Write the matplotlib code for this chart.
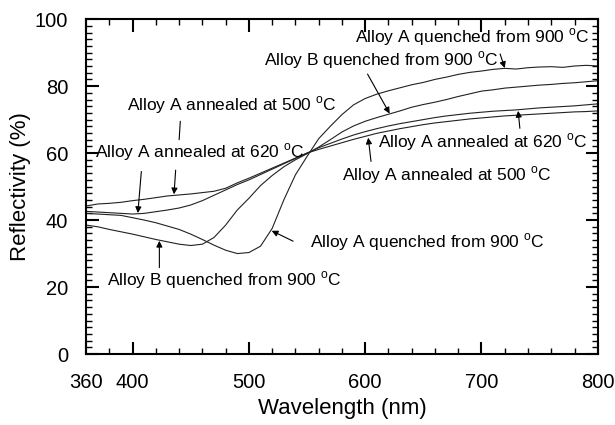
import numpy as np
import matplotlib
matplotlib.use("Agg")
import matplotlib.pyplot as plt
from matplotlib.ticker import MultipleLocator, FixedLocator

plt.rcParams['font.family'] = ['Liberation Sans', 'DejaVu Sans']
plt.rcParams['mathtext.fontset'] = 'custom'
plt.rcParams['mathtext.rm'] = 'Liberation Sans'

# Wavelength grid (nm)
wavelength = list(range(360, 801, 10))

# Reflectivity spectra (%)
alloy_a_quenched = [42.0, 41.8, 41.6, 41.4, 40.7, 40.0, 39.2, 38.2, 37.2, 35.8,
                    34.2, 32.5, 31.0, 30.0, 30.3, 32.2, 37.5, 46.0, 53.5, 59.0,
                    64.3, 68.0, 71.5, 74.4, 76.3, 77.6, 78.6, 79.5, 80.4, 81.1,
                    82.0, 82.7, 83.5, 84.1, 84.5, 85.0, 85.3, 85.1, 85.5, 85.7,
                    85.8, 85.6, 86.0, 86.2, 86.0]
alloy_b_quenched = [38.5, 38.0, 37.2, 36.5, 35.8, 35.0, 34.2, 33.5, 32.8, 32.4,
                    32.8, 34.8, 38.5, 43.0, 46.5, 50.3, 53.3, 55.9, 58.0, 59.8,
                    61.8, 64.0, 66.3, 68.1, 69.5, 70.6, 71.6, 72.6, 73.7, 74.5,
                    75.2, 76.0, 76.9, 77.7, 78.5, 78.9, 79.4, 79.7, 80.0, 80.3,
                    80.5, 80.8, 81.0, 81.3, 81.6]
alloy_a_500 = [44.2, 44.8, 45.0, 45.3, 45.8, 46.2, 46.7, 47.2, 47.5, 47.8,
               48.2, 48.6, 49.5, 51.1, 52.5, 54.0, 55.5, 57.0, 58.5, 60.0,
               61.1, 62.1, 63.1, 64.1, 65.0, 65.9, 66.6, 67.3, 67.9, 68.5,
               69.0, 69.4, 69.8, 70.2, 70.5, 70.8, 71.1, 71.3, 71.5, 71.7,
               71.9, 72.1, 72.3, 72.4, 72.6]
alloy_a_620 = [42.6, 42.4, 42.2, 42.0, 41.8, 42.0, 42.5, 43.0, 43.6, 44.5,
               45.8, 47.4, 49.0, 50.6, 52.0, 53.6, 55.2, 56.8, 58.4, 60.0,
               61.6, 62.9, 64.2, 65.4, 66.4, 67.3, 68.1, 68.8, 69.4, 70.0,
               70.6, 71.1, 71.5, 71.9, 72.2, 72.5, 72.7, 72.9, 73.2, 73.5,
               73.7, 73.9, 74.1, 74.4, 74.7]

x_ticks = [360, 400, 500, 600, 700, 800]
y_ticks = [0, 20, 40, 60, 80, 100]

fig = plt.figure(figsize=(6.15, 4.25), dpi=100)
ax = fig.add_axes([0.140, 0.167, 0.832, 0.788])

line_kw = dict(color='#222222', lw=0.8)
ax.plot(wavelength, alloy_a_quenched, **line_kw)
ax.plot(wavelength, alloy_b_quenched, **line_kw)
ax.plot(wavelength, alloy_a_500, **line_kw)
ax.plot(wavelength, alloy_a_620, **line_kw)

ax.set_xlim(360, 800)
ax.set_ylim(0, 100)
ax.xaxis.set_major_locator(FixedLocator(x_ticks))
ax.xaxis.set_minor_locator(MultipleLocator(20))
ax.yaxis.set_major_locator(FixedLocator(y_ticks))
ax.yaxis.set_minor_locator(MultipleLocator(2))
ax.tick_params(which='both', direction='in', top=True, right=True,
               labelsize=14.5)
ax.tick_params(axis='x', which='major', pad=14)
ax.tick_params(axis='y', which='major', pad=13)
ax.tick_params(which='major', length=9, width=1.5)
ax.tick_params(which='minor', length=4.5, width=1.0)
for s in ax.spines.values():
    s.set_linewidth(1.5)

ax.set_xlabel('Wavelength (nm)', fontsize=16, labelpad=4)
ax.set_ylabel('Reflectivity (%)', fontsize=16, labelpad=3)

deg = r'$^{\mathrm{o}}$C'
fs = 12.5
arrow = dict(arrowstyle='-|>', color='black', lw=0.8, mutation_scale=9,
             shrinkA=0, shrinkB=0)
stick = dict(arrowstyle='-', color='black', lw=0.8, shrinkA=0, shrinkB=0)

# Labels with leader arrows
ax.text(793, 94.6, 'Alloy A quenched from 900 ' + deg, fontsize=fs,
        ha='right', va='center')
ax.annotate('', xy=(720, 85.4), xytext=(716, 89.6), arrowprops=arrow)

ax.text(613.5, 87.8, 'Alloy B quenched from 900 ' + deg, fontsize=fs,
        ha='center', va='center')
ax.annotate('', xy=(621, 71.8), xytext=(602, 83.6), arrowprops=arrow)

ax.text(485.5, 74.3, 'Alloy A annealed at 500 ' + deg, fontsize=fs,
        ha='center', va='center')
ax.annotate('', xy=(440, 64.0), xytext=(441, 69.5), arrowprops=stick)
ax.annotate('', xy=(435.6, 47.7), xytext=(437, 54.9), arrowprops=arrow)

ax.text(367.7, 60.3, 'Alloy A annealed at 620 ' + deg, fontsize=fs,
        ha='left', va='center')
ax.annotate('', xy=(404.5, 42.1), xytext=(407.5, 54.5), arrowprops=arrow)

ax.text(791, 63.3, 'Alloy A annealed at 620 ' + deg, fontsize=fs,
        ha='right', va='center')
ax.annotate('', xy=(731.5, 72.6), xytext=(733, 67.4), arrowprops=arrow)

ax.text(580, 53.4, 'Alloy A annealed at 500 ' + deg, fontsize=fs,
        ha='left', va='center')
ax.annotate('', xy=(602.6, 64.6), xytext=(605, 57.5), arrowprops=arrow)

ax.text(552.5, 33.4, 'Alloy A quenched from 900 ' + deg, fontsize=fs,
        ha='left', va='center')
ax.annotate('', xy=(519.6, 36.8), xytext=(538, 33.7), arrowprops=arrow)

ax.text(378, 22.1, 'Alloy B quenched from 900 ' + deg, fontsize=fs,
        ha='left', va='center')
ax.annotate('', xy=(423, 33.8), xytext=(423, 25.8), arrowprops=arrow)

fig.savefig('out.png', dpi=100, facecolor='white')
